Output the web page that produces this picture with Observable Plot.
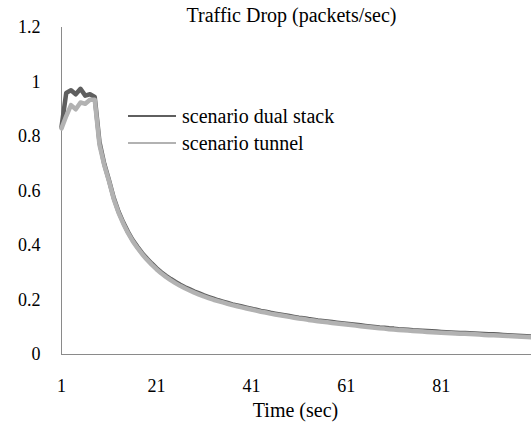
<!DOCTYPE html>
<html>
<head>
<meta charset="utf-8">
<script src="https://cdn.jsdelivr.net/npm/d3@7"></script>
<script src="https://cdn.jsdelivr.net/npm/@observablehq/plot@0.6"></script>
<style>
  html, body { margin: 0; padding: 0; background: #fff; }
  #wrap { position: relative; width: 531px; height: 423px; }
  #legend { position: absolute; left: 128px; top: 102.5px; font-family: "Liberation Serif", serif; font-size: 20px; color: #000; }
  .item { display: flex; align-items: center; height: 27px; }
  .swatch { width: 48px; height: 2px; margin-right: 6px; }
</style>
</head>
<body>
<div id="wrap"><div id="legend"></div></div>
<script>
const title = "Traffic Drop (packets/sec)";
const xTitle = "Time (sec)";
const seriesNames = ["scenario dual stack", "scenario tunnel"];
const seriesColors = ["#5f5f5f", "#b2b2b2"];
const xTicks = [1, 21, 41, 61, 81];
const yTicks = [0, 0.2, 0.4, 0.6, 0.8, 1, 1.2];
const times = d3.range(1, 101);
const dualStack = [
  0.835, 0.96, 0.97, 0.955, 0.975, 0.95, 0.955, 0.945, 0.78, 0.70,
  0.64, 0.575, 0.525, 0.485, 0.45, 0.42, 0.395, 0.372, 0.352, 0.334,
  0.317, 0.302, 0.289, 0.277, 0.266, 0.256, 0.247, 0.239, 0.231, 0.224,
  0.217, 0.211, 0.205, 0.199, 0.194, 0.189, 0.184, 0.18, 0.176, 0.172,
  0.168, 0.164, 0.16, 0.157, 0.153, 0.15, 0.147, 0.144, 0.141, 0.138,
  0.135, 0.133, 0.13, 0.128, 0.125, 0.123, 0.121, 0.119, 0.117, 0.115,
  0.113, 0.111, 0.109, 0.107, 0.105, 0.103, 0.101, 0.099, 0.098, 0.096,
  0.095, 0.093, 0.092, 0.091, 0.089, 0.088, 0.087, 0.086, 0.085, 0.084,
  0.083, 0.082, 0.081, 0.08, 0.079, 0.079, 0.078, 0.077, 0.076, 0.075,
  0.074, 0.074, 0.073, 0.072, 0.071, 0.07, 0.069, 0.068, 0.067, 0.066
];
const tunnel = [
  0.83, 0.875, 0.915, 0.9, 0.925, 0.92, 0.935, 0.935, 0.77, 0.695,
  0.636, 0.571, 0.521, 0.481, 0.446, 0.416, 0.391, 0.368, 0.348, 0.33,
  0.313, 0.298, 0.285, 0.273, 0.262, 0.252, 0.243, 0.235, 0.227, 0.22,
  0.213, 0.207, 0.201, 0.196, 0.191, 0.186, 0.181, 0.177, 0.173, 0.169,
  0.165, 0.161, 0.157, 0.154, 0.15, 0.147, 0.144, 0.141, 0.138, 0.135,
  0.132, 0.13, 0.127, 0.125, 0.122, 0.12, 0.118, 0.116, 0.114, 0.112,
  0.11, 0.108, 0.106, 0.104, 0.102, 0.1, 0.098, 0.096, 0.095, 0.093,
  0.092, 0.09, 0.089, 0.088, 0.086, 0.085, 0.084, 0.083, 0.082, 0.081,
  0.08, 0.079, 0.078, 0.077, 0.076, 0.076, 0.075, 0.074, 0.073, 0.072,
  0.071, 0.071, 0.07, 0.069, 0.068, 0.067, 0.066, 0.065, 0.064, 0.063
];

const rowsDual = times.map((t, i) => ({t, v: dualStack[i]}));
const rowsTunnel = times.map((t, i) => ({t, v: tunnel[i]}));

const chart = Plot.plot({
  width: 531,
  height: 423,
  marginLeft: 61,
  marginRight: 0,
  marginTop: 27,
  marginBottom: 69,
  style: {fontFamily: "'Liberation Serif', serif", fontSize: "18px", color: "#000", background: "#fff", overflow: "visible"},
  x: {domain: [1, 100]},
  y: {domain: [0, 1.2]},
  marks: [
    Plot.axisX({ticks: xTicks, tickSize: 0, tickPadding: 25, label: null, tickFormat: d => String(d), fontSize: 18, fill: "#000"}),
    Plot.axisY({ticks: yTicks, tickSize: 0, tickPadding: 21, label: null, tickFormat: d => String(d), fontSize: 18, fill: "#000"}),
    Plot.ruleY([0], {stroke: "#8a8a8a", strokeWidth: 1}),
    Plot.ruleX([1], {stroke: "#8a8a8a", strokeWidth: 1}),
    Plot.line(rowsDual, {x: "t", y: "v", stroke: seriesColors[0], strokeWidth: 4.5}),
    Plot.line(rowsTunnel, {x: "t", y: "v", stroke: seriesColors[1], strokeWidth: 4.5}),
    Plot.text([title], {frameAnchor: "top", lineAnchor: "middle", dx: -5, dy: -12, text: d => d, fontSize: 20, fill: "#000"}),
    Plot.text([xTitle], {frameAnchor: "bottom", lineAnchor: "middle", dx: -1, dy: 56, text: d => d, fontSize: 20, fill: "#000"})
  ]
});
const wrap = document.getElementById("wrap");
wrap.insertBefore(chart, wrap.firstChild);

const legend = document.getElementById("legend");
seriesNames.forEach((name, i) => {
  const item = document.createElement("div");
  item.className = "item";
  const sw = document.createElement("div");
  sw.className = "swatch";
  sw.style.background = seriesColors[i];
  const label = document.createElement("span");
  label.textContent = name;
  item.appendChild(sw);
  item.appendChild(label);
  legend.appendChild(item);
});
</script>
</body>
</html>
